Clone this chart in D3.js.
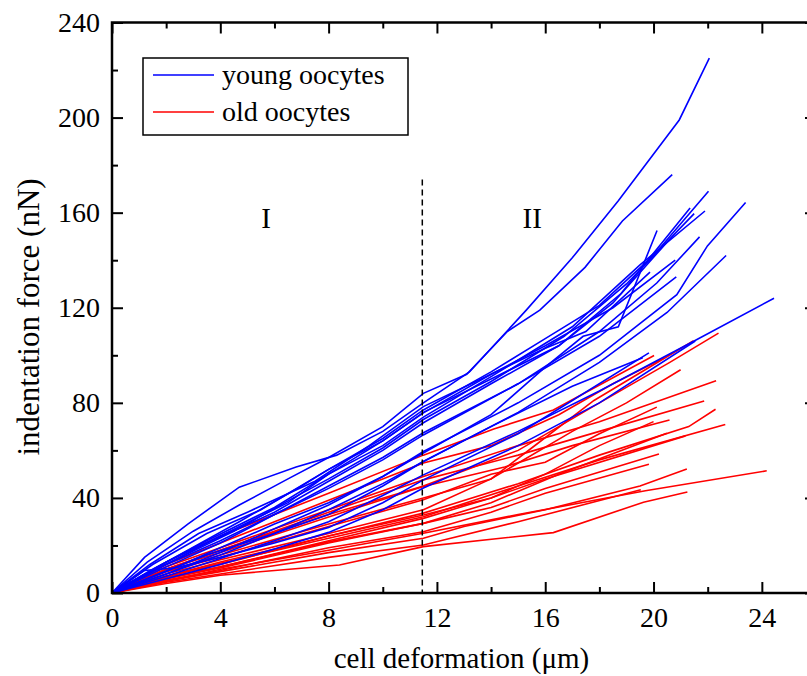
<!DOCTYPE html>
<html lang="en">
<head>
<meta charset="UTF-8" />
<title>Indentation force vs cell deformation</title>
<style>
  body { margin: 0; background: #ffffff; }
  #chart { width: 807px; height: 676px; overflow: hidden; }
  text { font-family: 'Liberation Serif', 'Times New Roman', serif; fill: #000; }
  .young { fill: none; stroke: #0000ff; stroke-width: 1.6; }
  .old { fill: none; stroke: #ff0000; stroke-width: 1.6; }
</style>
<script src="https://d3js.org/d3.v7.min.js"></script>
</head>
<body>
<div id="chart"></div>
<script>
  // axis ticks
  const xTicks = [0, 4, 8, 12, 16, 20, 24];
  const xMinor = [2, 6, 10, 14, 18, 22];
  const yTicks = [0, 40, 80, 120, 160, 200, 240];
  const yMinor = [20, 60, 100, 140, 180, 220];

  // regions boundary (µm)
  const boundary = 11.46;
  const regions = [{ label: 'I', x: 5.69 }, { label: 'II', x: 15.52 }];

  // young oocytes: [deformation µm, force nN]
  const young = [
    [[0,0],[1.2,15],[2.8,29],[4.7,44.5],[6.8,53],[8.3,58],[10,68],[11.5,80],[13.2,93],[15.3,119],[17,141],[18.7,165],[20.95,199],[22.06,225]],
    [[0,0],[1.3,13],[3,26],[4.7,37],[6.5,48],[8,57],[10,70],[11.5,84],[13.1,92],[14.6,110],[15.8,119],[17.47,137],[18.85,156.5],[20.69,176]],
    [[0,0],[1.5,12],[3.5,25],[5.5,35],[8,52],[10,65],[11.5,77],[14,93],[16,107],[18,121],[20,142],[22.03,169]],
    [[0,0],[1.5,10],[3.5,22],[6,36],[8,50],[10,62],[11.5,74],[14,91],[17,112],[19.5,138],[21.9,160.7]],
    [[0,0],[2,13],[4,24],[6.5,38],[8,50],[10,64],[11.5,76],[14,90],[16.5,104],[18.8,126],[21.35,162]],
    [[0,0],[1.8,11],[4.5,26],[6.7,40],[8,48],[10,61],[11.5,73],[14,89],[16.7,108],[19,130],[21.5,159.6]],
    [[0,0],[2,8],[4,17],[6,27],[8,37],[10,49],[11.5,58.9],[14,75],[16,95],[17.4,108],[18.7,112],[20.13,152.5]],
    [[0,0],[1.5,9],[3.5,21],[6,34],[8,47],[10,60],[11.5,71.6],[14,88],[16.5,104],[18.5,122],[20.49,147.5]],
    [[0,0],[2,11],[4,21],[6,33],[8,45],[10,57],[11.5,67.4],[15,88],[18,110],[20.12,130.4],[21.7,149.8]],
    [[0,0],[2,9],[4,19],[6,29],[8,38],[10,49],[11.5,59.5],[15,80],[18,100],[20.86,125.5],[21.99,146],[23.4,164.3]],
    [[0,0],[2,8],[4,16],[6,25],[8,35],[10,46],[11.5,55.3],[15,76],[18,97],[20.5,118],[22.68,142]],
    [[0,0],[1.4,12],[3.2,25],[5,34],[7.5,47],[9.5,62],[11.5,78.4],[14,92],[16,103],[17.5,110],[19.87,135]],
    [[0,0],[2,12],[4,22],[6,33],[8,44],[10,56],[11.5,66.5],[15,88],[18,108],[20.84,133]],
    [[0,0],[2,7],[4,14.5],[6,22],[8,30],[10,41],[11.5,49.7],[15,68],[18,85],[21.5,106],[24.45,124]],
    [[0,0],[1.2,9.5],[2.3,10.5],[4,15],[6,21],[8,27.6],[10,38],[11.5,47.6],[15,67],[17,81],[19.83,101]],
    [[0,0],[2,6],[4,12],[6,18.5],[8,25.5],[10,35],[11.5,44.2],[15,62],[18,80],[21.54,106]],
    [[0,0],[2,13],[4.7,30],[7,45],[8,52],[10,64],[11.5,75.8],[14,92],[16,104],[18.5,120],[20.8,140]],
    [[0,0],[1.5,7],[3.5,16],[6,25],[8,33],[10,45],[11.5,55.3],[14,70],[17,87],[19.6,99]]
  ];

  // old oocytes
  const old = [
    [[0,0],[2,10],[4,18],[8,33],[11.5,45],[15,60],[18,80],[20.6,97],[22.4,109.3]],
    [[0,0],[2,9],[4,16],[8,29],[11.5,40],[14,48],[15.5,61],[17.8,81],[20,96],[21.48,106.1]],
    [[0,0],[2,13],[4,24],[8,42],[11.5,58],[14.1,69],[16.3,77],[20.02,99.9]],
    [[0,0],[2,12],[4,21],[8,39],[11.5,54.7],[14,62],[16.5,75],[18.5,88],[20.39,98.9]],
    [[0,0],[2,8],[4,14],[8,25],[11.5,35],[14,48],[17,68],[19,80],[21,93.9]],
    [[0,0],[2,11],[4,19],[8,35],[11.5,49],[15,62],[18,72],[22.31,89.3]],
    [[0,0],[2,10],[4,18],[8,34],[11.5,47.6],[15,58],[18,68],[21.87,80.8]],
    [[0,0],[2,7],[4,13],[8,24],[11.5,33.6],[15,46],[18,58],[21.3,70],[22.29,77.3]],
    [[0,0],[2,7],[4,12.5],[8,23],[11.5,32.1],[15,45],[18,56],[22.65,70.9]],
    [[0,0],[2,10],[4,17],[8,32],[11.5,44.8],[14.5,53],[17,62],[20.59,72.8]],
    [[0,0],[2,9],[4,15],[8,28],[11.5,39.2],[14,50],[16,55],[18,67],[20.12,78.2]],
    [[0,0],[2,6],[4,11],[8,22],[11.5,31.4],[14,40],[16,50],[18,62],[20,72.1]],
    [[0,0],[2,6],[4,10.5],[8,21],[11.5,29.3],[14,38],[16.5,50],[20.49,67.2]],
    [[0,0],[2,7],[4,12],[8,24],[11.5,32.8],[14,40],[16,48],[21.18,66.1]],
    [[0,0],[2,6.5],[4,11],[8,21.5],[11.5,29.3],[14,36],[16,44],[20.2,58.5]],
    [[0,0],[2,5.5],[4,9.5],[8,19],[11.5,25.8],[14,34],[16,42],[19.83,54.2]],
    [[0,0],[2,5],[4,9],[8,17],[11.5,23],[13,28],[16,35],[19.5,45],[21.23,52.2]],
    [[0,0],[2,5],[4,10],[8,18],[11.5,25.1],[15,33],[19.7,43],[24.18,51.4]],
    [[0,0],[2,4.5],[4,8],[8,15],[11.5,20.2],[15,30],[19.53,43.4]],
    [[0,0],[2,4],[4,7.5],[8.4,11.8],[11.5,19.5],[16.3,25.4],[19.63,38.2],[21.25,42.5]]
  ];

  const legendItems = [
    { label: 'young oocytes', cls: 'young' },
    { label: 'old oocytes', cls: 'old' }
  ];

  const W = 807, H = 676;
  const margin = { top: 22.5, left: 112 };
  const innerW = 704, innerH = 570.5;

  const svg = d3.select('#chart').append('svg')
    .attr('width', W).attr('height', H);

  const g = svg.append('g')
    .attr('transform', `translate(${margin.left},${margin.top})`);

  const x = d3.scaleLinear().domain([0, 26]).range([0, innerW]);
  const y = d3.scaleLinear().domain([0, 240]).range([innerH, 0]);

  const line = d3.line().x(d => x(d[0])).y(d => y(d[1]));

  // data lines
  g.selectAll('.old-line').data(old).enter()
    .append('path').attr('class', 'old').attr('d', line);
  g.selectAll('.young-line').data(young).enter()
    .append('path').attr('class', 'young').attr('d', line);

  // dashed boundary
  g.append('line')
    .attr('x1', x(boundary)).attr('x2', x(boundary))
    .attr('y1', y(174)).attr('y2', y(0))
    .attr('stroke', '#000').attr('stroke-width', 1.5)
    .attr('stroke-dasharray', '6,4');

  g.selectAll('.region').data(regions).enter()
    .append('text')
    .attr('x', d => x(d.x)).attr('y', 205.5)
    .attr('text-anchor', 'middle')
    .style('font-size', '29px')
    .text(d => d.label);

  // axes: ticks point inward
  function styleAxis(sel) {
    sel.select('.domain').remove();
    sel.selectAll('line').attr('stroke', '#000').attr('stroke-width', 2);
    sel.selectAll('text').style('font-size', '28px')
      .style('font-family', "'Liberation Serif', 'Times New Roman', serif");
  }

  g.append('g').attr('transform', `translate(0,${innerH})`)
    .call(d3.axisBottom(x).tickValues(xTicks).tickSizeInner(-11).tickSizeOuter(0).tickPadding(14))
    .call(styleAxis);
  g.append('g').attr('transform', `translate(0,${innerH})`)
    .call(d3.axisBottom(x).tickValues(xMinor).tickSizeInner(-6).tickSizeOuter(0).tickFormat(''))
    .call(styleAxis);
  g.append('g')
    .call(d3.axisTop(x).tickValues(xTicks).tickSizeInner(-11).tickSizeOuter(0).tickFormat(''))
    .call(styleAxis);
  g.append('g')
    .call(d3.axisTop(x).tickValues(xMinor).tickSizeInner(-6).tickSizeOuter(0).tickFormat(''))
    .call(styleAxis);

  g.append('g')
    .call(d3.axisLeft(y).tickValues(yTicks).tickSizeInner(-11).tickSizeOuter(0).tickPadding(12))
    .call(styleAxis);
  g.append('g')
    .call(d3.axisLeft(y).tickValues(yMinor).tickSizeInner(-6).tickSizeOuter(0).tickFormat(''))
    .call(styleAxis);
  g.append('g').attr('transform', `translate(${innerW},0)`)
    .call(d3.axisRight(y).tickValues(yTicks).tickSizeInner(-11).tickSizeOuter(0).tickFormat(''))
    .call(styleAxis);
  g.append('g').attr('transform', `translate(${innerW},0)`)
    .call(d3.axisRight(y).tickValues(yMinor).tickSizeInner(-6).tickSizeOuter(0).tickFormat(''))
    .call(styleAxis);

  // frame
  g.append('rect')
    .attr('width', innerW).attr('height', innerH)
    .attr('fill', 'none').attr('stroke', '#000').attr('stroke-width', 2.5);

  // axis titles (x title centred under the visible part of the plot)
  svg.append('text')
    .attr('x', (margin.left + W) / 2 + 2).attr('y', 668)
    .attr('text-anchor', 'middle')
    .style('font-size', '29px')
    .text('cell deformation (μm)');

  svg.append('text')
    .attr('transform', 'translate(39,317) rotate(-90)')
    .attr('text-anchor', 'middle')
    .style('font-size', '31px')
    .text('indentation force (nN)');

  // legend
  const legend = svg.append('g').attr('transform', 'translate(143,58)');
  legend.append('rect')
    .attr('width', 265).attr('height', 77)
    .attr('fill', '#fff').attr('stroke', '#000').attr('stroke-width', 1.5);
  const items = legend.selectAll('.item').data(legendItems).enter()
    .append('g').attr('transform', (d, i) => `translate(0,${17 + i * 37})`);
  items.append('line')
    .attr('class', d => d.cls)
    .attr('x1', 10).attr('x2', 71).attr('y1', 0).attr('y2', 0);
  items.append('text')
    .attr('x', 79).attr('y', 8.5)
    .style('font-size', '28px')
    .text(d => d.label);
</script>
</body>
</html>
